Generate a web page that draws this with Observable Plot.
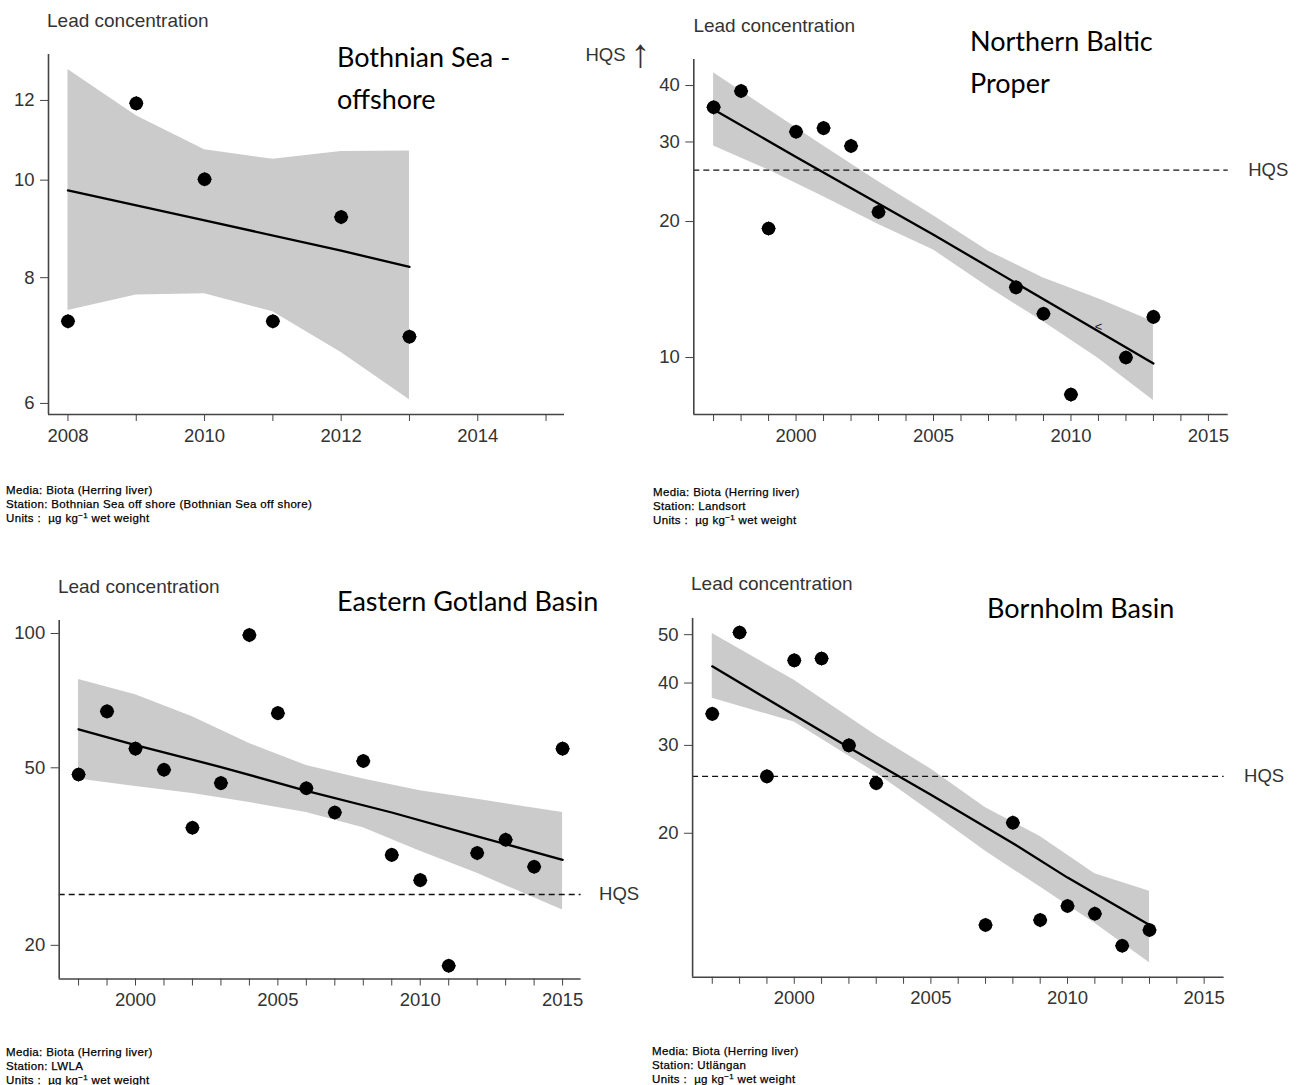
<!DOCTYPE html>
<html><head><meta charset="utf-8">
<script src="https://cdn.jsdelivr.net/npm/d3@7"></script>
<script src="https://cdn.jsdelivr.net/npm/@observablehq/plot@0.6"></script>
<style>
body{margin:0;background:#fff}
#wrap{position:relative;width:1301px;height:1085px;overflow:hidden;background:#fff}
.abs{position:absolute;white-space:nowrap;z-index:2}
.ylab{font-family:"Liberation Sans",Arial,sans-serif;font-size:19px;line-height:19px;color:#333}
.title{font-family:Lato,"Open Sans",sans-serif;font-size:27px;line-height:27px;color:#000}
.foot{font-family:"Liberation Sans",Arial,sans-serif;font-size:11.5px;line-height:14px;color:#000;letter-spacing:0.35px;-webkit-text-stroke:0.25px #000}
.foot sup{font-size:8px;line-height:0;vertical-align:4px}
.plot{position:absolute;z-index:1}
</style>
</head><body>
<div id="wrap"></div>
<script>
// ---------- Panel 1: Bothnian Sea - offshore ----------
const p1Years = [2008, 2009, 2010, 2011, 2012, 2013];
const p1Values = [7.24, 11.92, 10.02, 7.24, 9.19, 6.99];
const p1TrendYears = [2008, 2010, 2012, 2013];
const p1Trend = [9.77, 9.12, 8.51, 8.20];
const p1BandYears = [2008, 2009, 2010, 2011, 2012, 2013];
const p1BandHigh = [12.88, 11.59, 10.72, 10.49, 10.68, 10.69];
const p1BandLow = [7.42, 7.69, 7.71, 7.40, 6.74, 6.05];
const p1YTicks = [6, 8, 10, 12];
const p1XTicks = [2008, 2009, 2010, 2011, 2012, 2013, 2014, 2015];
const p1XLabels = [2008, 2010, 2012, 2014];

// ---------- Panel 2: Northern Baltic Proper ----------
const p2Years = [1997, 1998, 1999, 2000, 2001, 2002, 2003, 2008, 2009, 2010, 2012, 2013];
const p2Values = [35.8, 38.9, 19.3, 31.6, 32.2, 29.4, 21.0, 14.3, 12.5, 8.28, 10.0, 12.3];
const p2TrendYears = [1997, 2000, 2005, 2010, 2013];
const p2Trend = [35.4, 27.8, 18.7, 12.4, 9.7];
const p2BandYears = [1997, 1999, 2001, 2003, 2005, 2007, 2009, 2011, 2013];
const p2BandHigh = [42.7, 35.4, 29.4, 24.5, 20.6, 17.2, 15.0, 13.5, 12.0];
const p2BandLow = [29.4, 26.0, 22.7, 19.7, 17.3, 14.3, 12.0, 9.95, 8.03];
const p2YTicks = [10, 20, 30, 40];
const p2XTicks = d3.range(1997, 2016);
const p2XLabels = [2000, 2005, 2010, 2015];
const p2Note = [{year: 2011, value: 11.7, label: "<"}];

// ---------- Panel 3: Eastern Gotland Basin ----------
const p3Years = [1998, 1999, 2000, 2001, 2002, 2003, 2004, 2005, 2006, 2007, 2008, 2009, 2010, 2011, 2012, 2013, 2014, 2015];
const p3Values = [48.3, 66.9, 55.2, 49.5, 36.7, 46.2, 99.2, 66.3, 45.0, 39.7, 51.8, 31.9, 28.0, 18.0, 32.2, 34.5, 30.0, 55.2];
const p3TrendYears = [1998, 2000, 2003, 2006, 2009, 2012, 2015];
const p3Trend = [61.0, 56.2, 50.2, 44.4, 39.7, 35.1, 31.1];
const p3BandYears = [1998, 2000, 2002, 2004, 2006, 2008, 2010, 2012, 2015];
const p3BandHigh = [78.9, 72.9, 65.1, 56.7, 50.6, 47.2, 44.4, 42.5, 39.7];
const p3BandLow = [47.2, 45.4, 43.8, 41.8, 39.7, 36.7, 32.5, 29.0, 24.0];
const p3YTicks = [20, 50, 100];
const p3XTicks = d3.range(1998, 2016);
const p3XLabels = [2000, 2005, 2010, 2015];

// ---------- Panel 4: Bornholm Basin ----------
const p4Years = [1997, 1998, 1999, 2000, 2001, 2002, 2003, 2007, 2008, 2009, 2010, 2011, 2012, 2013];
const p4Values = [34.7, 50.5, 26.0, 44.4, 44.8, 30.0, 25.2, 13.1, 21.0, 13.4, 14.3, 13.8, 11.9, 12.8];
const p4TrendYears = [1997, 2002, 2005, 2008, 2010, 2013];
const p4Trend = [43.2, 29.7, 23.9, 19.1, 16.3, 13.1];
const p4BandYears = [1997, 2000, 2003, 2005, 2007, 2009, 2011, 2013];
const p4BandHigh = [50.3, 40.5, 31.4, 26.9, 22.5, 19.7, 16.6, 15.3];
const p4BandLow = [37.3, 33.4, 26.4, 22.1, 18.4, 15.6, 13.2, 11.0];
const p4YTicks = [20, 30, 40, 50];
const p4XTicks = d3.range(1997, 2016);
const p4XLabels = [2000, 2005, 2010, 2015];

const hqsValue = 26;
const yLabel = "Lead concentration";
const mediaText = "Media: Biota (Herring liver)";
const stations = ["Bothnian Sea off shore (Bothnian Sea off shore)", "Landsort", "LWLA", "Utlängan"];

const zip2 = (xs, ys) => xs.map((x, i) => ({year: x, value: ys[i]}));
const zipBand = (xs, lo, hi) => xs.map((x, i) => ({year: x, lo: lo[i], hi: hi[i]}));

const wrap = document.getElementById("wrap");

function panel(cfg) {
  const pts = zip2(cfg.years, cfg.values);
  const trend = zip2(cfg.trendYears, cfg.trend);
  const band = zipBand(cfg.bandYears, cfg.bandLow, cfg.bandHigh);
  const marks = [
    Plot.areaY(band, {x: "year", y1: "lo", y2: "hi", fill: "#cbcbcb"}),
  ];
  if (cfg.hqsLine) {
    marks.push(Plot.ruleY([hqsValue], {stroke: "#111", strokeWidth: 1.3, strokeDasharray: "6,4"}));
    marks.push(Plot.text([{v: hqsValue, t: "HQS"}], {y: "v", text: "t", frameAnchor: "right", dx: cfg.hqsDx, textAnchor: "start", lineAnchor: "middle", fill: "#333"}));
  }
  if (cfg.hqsAbove) {
    marks.push(Plot.text(["HQS"], {frameAnchor: "top-right", dx: 21, dy: 1, textAnchor: "start", lineAnchor: "middle", fill: "#333"}));
    marks.push(Plot.text(["↑"], {frameAnchor: "top-right", dx: 76, dy: 0, textAnchor: "middle", lineAnchor: "middle", fontSize: 40, fontWeight: 300, fill: "#333"}));
  }
  marks.push(Plot.line(trend, {x: "year", y: "value", stroke: "#000", strokeWidth: 2.3}));
  if (cfg.note) {
    marks.push(Plot.text(cfg.note, {x: "year", y: "value", text: "label", fontSize: 13, fill: "#222"}));
  }
  marks.push(Plot.dot(pts, {x: "year", y: "value", r: 6.8, fill: "#000", symbol: "circle"}));
  marks.push(Plot.dot(pts, {x: "year", y: "value", r: 6.6, fill: "#000", symbol: "diamond2"}));
  marks.push(Plot.ruleX([cfg.xDomain[0]], {stroke: "#444", strokeWidth: 1.6}));
  marks.push(Plot.ruleY([cfg.yDomain[0]], {stroke: "#444", strokeWidth: 1.6}));
  marks.push(Plot.axisY({ticks: cfg.yTicks, tickSize: 8, tickPadding: 6, tickFormat: d => String(d), stroke: "#444", fill: "#333", label: null}));
  marks.push(Plot.axisX({ticks: cfg.xTicks, tickSize: 7, tickPadding: 7, tickFormat: d => cfg.xLabels.includes(d) ? String(d) : "", stroke: "#444", fill: "#333", label: null}));

  const svg = Plot.plot({
    width: cfg.w, height: cfg.h,
    marginLeft: cfg.mL, marginRight: cfg.mR, marginTop: cfg.mT, marginBottom: cfg.mB,
    x: {domain: cfg.xDomain, label: null},
    y: {type: "log", domain: cfg.yDomain, label: null},
    style: {fontFamily: '"Liberation Sans", Arial, sans-serif', fontSize: "18.5px", color: "#333", background: "transparent", overflow: "visible"},
    marks
  });
  svg.classList.add("plot");
  svg.style.left = cfg.left + "px";
  svg.style.top = cfg.top + "px";
  wrap.appendChild(svg);
}

panel({left: 0, top: 40, w: 650, h: 420, mL: 48, mR: 86, mT: 14, mB: 46,
  xDomain: [2007.715, 2015.27], yDomain: [5.85, 13.33],
  years: p1Years, values: p1Values, trendYears: p1TrendYears, trend: p1Trend,
  bandYears: p1BandYears, bandLow: p1BandLow, bandHigh: p1BandHigh,
  yTicks: p1YTicks, xTicks: p1XTicks, xLabels: p1XLabels, hqsAbove: true});

panel({left: 650, top: 40, w: 651, h: 420, mL: 43.3, mR: 73.3, mT: 18.9, mB: 46,
  xDomain: [1996.28, 2015.72], yDomain: [7.48, 45.7],
  years: p2Years, values: p2Values, trendYears: p2TrendYears, trend: p2Trend,
  bandYears: p2BandYears, bandLow: p2BandLow, bandHigh: p2BandHigh,
  yTicks: p2YTicks, xTicks: p2XTicks, xLabels: p2XLabels, hqsLine: true, hqsDx: 20, note: p2Note});

panel({left: 0, top: 600, w: 650, h: 420, mL: 58.7, mR: 69.4, mT: 19.9, mB: 41.5,
  xDomain: [1997.32, 2015.65], yDomain: [16.81, 107.0],
  years: p3Years, values: p3Values, trendYears: p3TrendYears, trend: p3Trend,
  bandYears: p3BandYears, bandLow: p3BandLow, bandHigh: p3BandHigh,
  yTicks: p3YTicks, xTicks: p3XTicks, xLabels: p3XLabels, hqsLine: true, hqsDx: 18});

panel({left: 650, top: 600, w: 651, h: 420, mL: 42.1, mR: 77.4, mT: 17.9, mB: 43.2,
  xDomain: [1996.28, 2015.73], yDomain: [10.29, 53.9],
  years: p4Years, values: p4Values, trendYears: p4TrendYears, trend: p4Trend,
  bandYears: p4BandYears, bandLow: p4BandLow, bandHigh: p4BandHigh,
  yTicks: p4YTicks, xTicks: p4XTicks, xLabels: p4XLabels, hqsLine: true, hqsDx: 20});

// ---------- Text overlays ----------
function addText(cls, left, top, html) {
  const d = document.createElement("div");
  d.className = "abs " + cls;
  d.style.left = left + "px";
  d.style.top = top + "px";
  d.innerHTML = html;
  wrap.appendChild(d);
}
const titles = [
  ["Bothnian Sea -", 337, 43], ["offshore", 337, 85],
  ["Northern Baltic", 970, 26.5], ["Proper", 970, 68.6],
  ["Eastern Gotland Basin", 337, 586.5],
  ["Bornholm Basin", 987, 594]
];
titles.forEach(([t, l, tp]) => addText("title", l, tp, t));
[[47, 10.9], [693.4, 15.9], [57.9, 576.6], [691, 574.2]].forEach(([l, tp]) => addText("ylab", l, tp, yLabel));
[[6, 483], [653, 485], [6, 1045], [652, 1044]].forEach(([l, tp], i) => {
  addText("foot", l, tp, mediaText + "<br>Station: " + stations[i] + "<br>Units :&nbsp; µg kg<sup>−1</sup> wet weight");
});
</script>
</body></html>
